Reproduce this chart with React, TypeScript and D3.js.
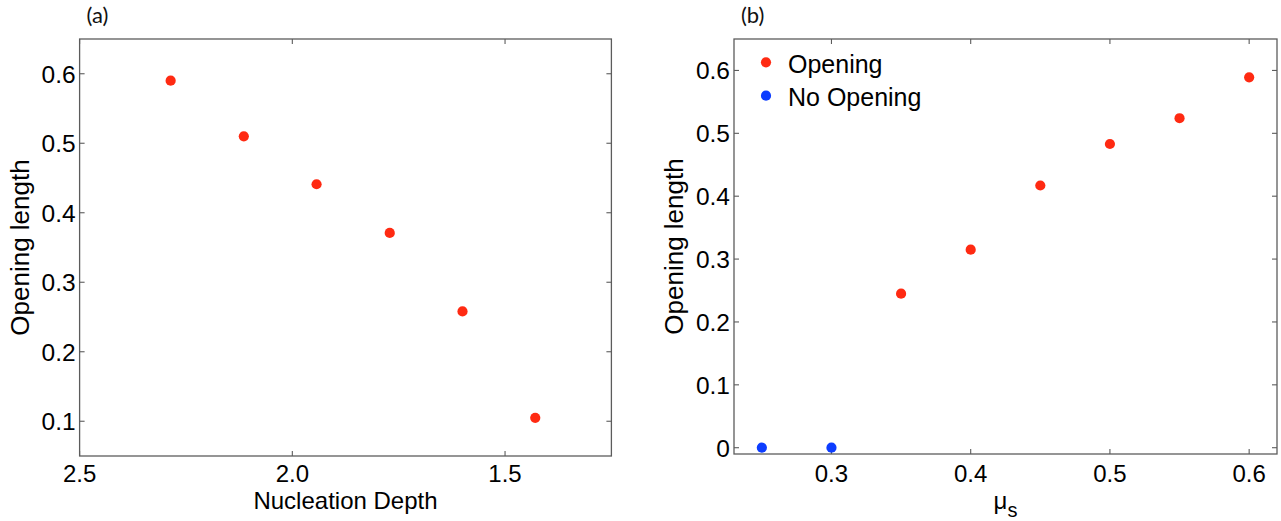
import React from "react";
import * as d3 from "d3";

// Panel (a): opening length vs nucleation depth
const depthValues = [2.286, 2.114, 1.943, 1.771, 1.6, 1.429];
const depthOpeningLength = [0.59, 0.51, 0.441, 0.371, 0.258, 0.105];
const depthXTicks = [2.5, 2.0, 1.5];
const depthYTicks = [0.1, 0.2, 0.3, 0.4, 0.5, 0.6];

// Panel (b): opening length vs static friction coefficient
const muOpening = [0.35, 0.4, 0.45, 0.5, 0.55, 0.6];
const muOpeningLength = [0.245, 0.315, 0.417, 0.483, 0.524, 0.589];
const muNoOpening = [0.25, 0.3];
const muNoOpeningLength = [0, 0];
const muXTicks = [0.3, 0.4, 0.5, 0.6];
const muYTicks = [0, 0.1, 0.2, 0.3, 0.4, 0.5, 0.6];

const legendLabels = ["Opening", "No Opening"];

const RED = "#ff2a12";
const BLUE = "#0d3dff";
const AXIS = "#5c5c5c";
const FONT = "'Liberation Sans', Arial, Helvetica, sans-serif";
const TICK = 5;
const R = 5.1;

type PanelProps = {
  left: number;
  right: number;
  top: number;
  bottom: number;
  xDomain: [number, number];
  yDomain: [number, number];
  xTicks: number[];
  yTicks: number[];
  xFormat: (d: number) => string;
  yFormat: (d: number) => string;
  tag: string;
  xLabel: React.ReactNode;
  children: (x: d3.ScaleLinear<number, number>, y: d3.ScaleLinear<number, number>) => React.ReactNode;
};

function Panel(p: PanelProps) {
  const x = d3.scaleLinear().domain(p.xDomain).range([p.left, p.right]);
  const y = d3.scaleLinear().domain(p.yDomain).range([p.bottom, p.top]);
  const cy = (p.top + p.bottom) / 2;
  const cx = (p.left + p.right) / 2;
  return (
    <g>
      <text x={p.left + 7} y={23} fontFamily="Lato, 'Open Sans', sans-serif" fontSize={22} fill="#111">
        {p.tag}
      </text>
      <rect x={p.left} y={p.top} width={p.right - p.left} height={p.bottom - p.top} fill="none" stroke={AXIS} strokeWidth={1.3} />
      {p.xTicks.map((t) => (
        <g key={"xt" + t}>
          <line x1={x(t)} x2={x(t)} y1={p.bottom} y2={p.bottom - TICK} stroke={AXIS} strokeWidth={1.1} />
          <line x1={x(t)} x2={x(t)} y1={p.top} y2={p.top + TICK} stroke={AXIS} strokeWidth={1.1} />
          <text x={x(t)} y={482} textAnchor="middle" fontFamily={FONT} fontSize={24} fill="#000">
            {p.xFormat(t)}
          </text>
        </g>
      ))}
      {p.yTicks.map((t) => (
        <g key={"yt" + t}>
          <line x1={p.left} x2={p.left + TICK} y1={y(t)} y2={y(t)} stroke={AXIS} strokeWidth={1.1} />
          <line x1={p.right} x2={p.right - TICK} y1={y(t)} y2={y(t)} stroke={AXIS} strokeWidth={1.1} />
          <text x={p.left - 4} y={y(t)} dy="0.36em" textAnchor="end" fontFamily={FONT} fontSize={24.5} fill="#000">
            {p.yFormat(t)}
          </text>
        </g>
      ))}
      <text
        transform={`translate(${p.left - 51},${cy}) rotate(-90)`}
        textAnchor="middle"
        fontFamily={FONT}
        fontSize={26}
        fill="#000"
      >
        Opening length
      </text>
      <text x={cx} y={509} textAnchor="middle" fontFamily={FONT} fontSize={24} fill="#000">
        {p.xLabel}
      </text>
      {p.children(x, y)}
    </g>
  );
}

export default function App() {
  const fmt1 = (d: number) => d.toFixed(1);
  const fmtY = (d: number) => (d === 0 ? "0" : d.toFixed(1));
  return (
    <svg
      width={1281}
      height={521}
      style={{ position: "absolute", left: 0, top: 0, background: "#fff" }}
    >
      <rect x={0} y={0} width={1281} height={521} fill="#fff" />
      <Panel
        left={79.6}
        right={611.4}
        top={39}
        bottom={456}
        xDomain={[2.5, 1.25]}
        yDomain={[0.05, 0.65]}
        xTicks={depthXTicks}
        yTicks={depthYTicks}
        xFormat={fmt1}
        yFormat={fmt1}
        tag="(a)"
        xLabel="Nucleation Depth"
      >
        {(x, y) =>
          depthValues.map((d, i) => (
            <circle key={i} cx={x(d)} cy={y(depthOpeningLength[i])} r={R} fill={RED} />
          ))
        }
      </Panel>
      <Panel
        left={734}
        right={1277}
        top={39}
        bottom={454}
        xDomain={[0.23, 0.62]}
        yDomain={[-0.01, 0.65]}
        xTicks={muXTicks}
        yTicks={muYTicks}
        xFormat={fmt1}
        yFormat={fmtY}
        tag="(b)"
        xLabel={
          <>
            <tspan>μ</tspan>
            <tspan fontSize={20} dy={8}>s</tspan>
          </>
        }
      >
        {(x, y) => (
          <g>
            {muOpening.map((d, i) => (
              <circle key={"o" + i} cx={x(d)} cy={y(muOpeningLength[i])} r={R} fill={RED} />
            ))}
            {muNoOpening.map((d, i) => (
              <circle key={"n" + i} cx={x(d)} cy={y(muNoOpeningLength[i])} r={R} fill={BLUE} />
            ))}
            {legendLabels.map((label, i) => (
              <g key={label}>
                <circle cx={766} cy={62.3 + i * 33.4} r={R} fill={i === 0 ? RED : BLUE} />
                <text x={788} y={72.5 + i * 33.4} fontFamily={FONT} fontSize={25} fill="#000">
                  {label}
                </text>
              </g>
            ))}
          </g>
        )}
      </Panel>
    </svg>
  );
}
